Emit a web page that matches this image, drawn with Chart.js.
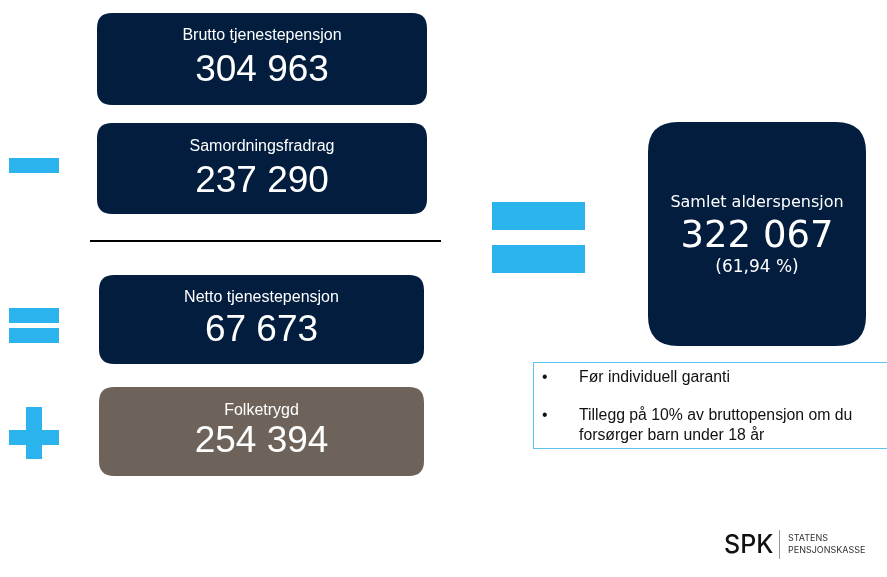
<!DOCTYPE html>
<html>
<head>
<meta charset="utf-8">
<script src="https://cdn.jsdelivr.net/npm/chart.js@4"></script>
<style>
  html, body { margin: 0; padding: 0; background: #ffffff; }
  #myChart { display: block; }
</style>
</head>
<body>
<canvas id="myChart" width="887" height="577"></canvas>
<script>
// values
var labels = ['Brutto tjenestepensjon', 'Samordningsfradrag', 'Netto tjenestepensjon', 'Folketrygd'];
var values = [304963, 237290, 67673, 254394];
var totalLabel = 'Samlet alderspensjon';
var totalValue = 322067;
var totalShare = 61.94;
var notes = [['Før individuell garanti'], ['Tillegg på 10% av bruttopensjon om du', 'forsørger barn under 18 år']];

var navy = '#021d3e';
var blue = '#2bb3ee';
var brown = '#6e635a';

function fmt(v) {
  return String(v).replace(/\B(?=(\d{3})+(?!\d))/g, ' ');
}

// box layout in page units
var boxes = [
  { x: 97, y: 13, w: 330, h: 92, color: navy, t: 36, v: 71 },
  { x: 97, y: 123, w: 330, h: 91, color: navy, t: 147, v: 182 },
  { x: 99, y: 275, w: 325, h: 89, color: navy, t: 298, v: 331 },
  { x: 99, y: 387, w: 325, h: 89, color: brown, t: 411, v: 442 }
];

function rr(ctx, x, y, w, h, r) {
  ctx.beginPath();
  ctx.moveTo(x + r, y);
  ctx.lineTo(x + w - r, y);
  ctx.quadraticCurveTo(x + w, y, x + w, y + r);
  ctx.lineTo(x + w, y + h - r);
  ctx.quadraticCurveTo(x + w, y + h, x + w - r, y + h);
  ctx.lineTo(x + r, y + h);
  ctx.quadraticCurveTo(x, y + h, x, y + h - r);
  ctx.lineTo(x, y + r);
  ctx.quadraticCurveTo(x, y, x + r, y);
  ctx.closePath();
}

var infoPlugin = {
  id: 'info',
  afterDraw: function (chart) {
    var ctx = chart.ctx;
    var sx = chart.scales.x, sy = chart.scales.y;
    function X(v) { return sx.getPixelForValue(v); }
    function Y(v) { return sy.getPixelForValue(v); }
    function rect(x, y, w, h, c) {
      ctx.fillStyle = c;
      ctx.fillRect(X(x), Y(y), X(x + w) - X(x), Y(y + h) - Y(y));
    }
    ctx.save();
    ctx.textAlign = 'center';
    ctx.textBaseline = 'middle';

    // the four boxes
    for (var i = 0; i < boxes.length; i++) {
      var b = boxes[i];
      ctx.fillStyle = b.color;
      rr(ctx, X(b.x), Y(b.y), X(b.x + b.w) - X(b.x), Y(b.y + b.h) - Y(b.y), 15);
      ctx.fill();
      ctx.fillStyle = '#ffffff';
      ctx.font = '16px "Liberation Sans", Arial, sans-serif';
      ctx.fillText(labels[i], X(b.x + b.w / 2), Y(b.t));
      ctx.font = '37px "Liberation Sans", Arial, sans-serif';
      ctx.fillText(fmt(values[i]), X(b.x + b.w / 2), Y(b.v));
    }

    // rule under the subtraction
    ctx.fillStyle = '#000000';
    ctx.fillRect(X(90), Y(240), X(441) - X(90), 2);

    // minus
    rect(9, 158, 50, 15, blue);
    // equals
    rect(9, 308, 50, 15, blue);
    rect(9, 328, 50, 15, blue);
    // plus
    rect(9, 430, 50, 15, blue);
    rect(26, 407, 16, 52, blue);
    // big equals
    rect(492, 202, 93, 28, blue);
    rect(492, 245, 93, 28, blue);

    // total box
    ctx.fillStyle = navy;
    rr(ctx, X(648), Y(122), X(866) - X(648), Y(346) - Y(122), 30);
    ctx.fill();
    ctx.fillStyle = '#ffffff';
    ctx.font = '16px "DejaVu Sans", Verdana, sans-serif';
    ctx.fillText(totalLabel, X(757), Y(203));
    ctx.font = '37px "DejaVu Sans", Verdana, sans-serif';
    ctx.fillText(fmt(totalValue), X(757), Y(237));
    ctx.font = '17px "DejaVu Sans", Verdana, sans-serif';
    ctx.fillText('(' + totalShare.toFixed(2).replace('.', ',') + ' %)', X(757), Y(268));

    // notes box
    ctx.strokeStyle = '#5cc2ee';
    ctx.lineWidth = 1;
    ctx.strokeRect(X(533) + 0.5, Y(362) + 0.5, X(890) - X(533), Y(448) - Y(362));
    ctx.fillStyle = '#111111';
    ctx.textAlign = 'left';
    ctx.font = '15.8px "Liberation Sans", Arial, sans-serif';
    var lineY = [[378], [416, 436]];
    for (var n = 0; n < notes.length; n++) {
      ctx.fillText('•', X(542), Y(lineY[n][0]));
      for (var k = 0; k < notes[n].length; k++) {
        ctx.fillText(notes[n][k], X(579), Y(lineY[n][k]));
      }
    }

    // logo
    ctx.fillStyle = '#111111';
    ctx.font = '500 25px Inter, "DejaVu Sans", sans-serif';
    ctx.fillText('SPK', X(724), Y(545));
    ctx.fillStyle = '#999999';
    ctx.fillRect(X(779), Y(530), 1, Y(559) - Y(530));
    ctx.fillStyle = '#333333';
    ctx.font = '9px Inter, "DejaVu Sans", sans-serif';
    ctx.fillText('STATENS', X(788), Y(538));
    ctx.fillText('PENSJONSKASSE', X(788), Y(550));
    ctx.restore();
  }
};

const ctx = document.getElementById('myChart');

new Chart(ctx, {
  type: 'scatter',
  data: {
    datasets: [{
      label: 'values',
      data: [],
      pointRadius: 0
    }]
  },
  options: {
    responsive: false,
    animation: false,
    devicePixelRatio: 1,
    layout: { padding: 0 },
    plugins: {
      legend: { display: false },
      tooltip: { enabled: false }
    },
    scales: {
      x: { type: 'linear', min: 0, max: 887, display: false },
      y: { type: 'linear', min: 0, max: 577, reverse: true, display: false }
    }
  },
  plugins: [infoPlugin]
});
</script>
</body>
</html>
